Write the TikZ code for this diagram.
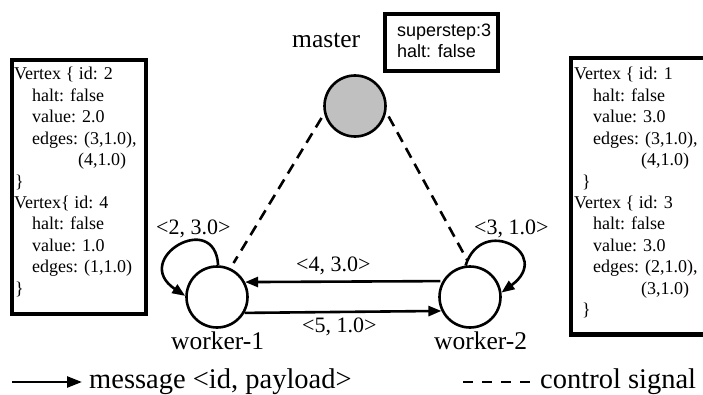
\documentclass[tikz,border=0pt]{standalone}
\usepackage{fontspec}
\setmainfont{Liberation Serif}
\newfontfamily\arialfont{Liberation Sans}
\usetikzlibrary{arrows.meta}
\definecolor{masterfill}{RGB}{192,192,192}
\tikzset{
  boxline/.style={draw=black, line width=4.5pt},
  vtxt/.style={anchor=base west, inner sep=0pt, font=\fontsize{18}{21}\selectfont},
  proc/.style={circle, draw=black, line width=2.6pt, minimum size=61pt, inner sep=0pt},
  lbl/.style={anchor=base west, inner sep=0pt, font=\fontsize{25.5}{28}\selectfont},
  msglbl/.style={anchor=base west, inner sep=0pt, font=\fontsize{22}{25}\selectfont},
  msg/.style={line width=2.6pt, -{Triangle[length=13pt,width=10pt]}},
  ctrl/.style={line width=2.6pt, dash pattern=on 11pt off 7pt},
  legtxt/.style={anchor=base west, inner sep=0pt, font=\fontsize{28.5}{31}\selectfont}
}
\begin{document}
\begin{tikzpicture}[x=1pt,y=1pt]
\useasboundingbox (0,0) rectangle (703,394);

% left vertex box
\draw[boxline] (12,334) rectangle (146,80);
\node[vtxt] (l0) at (14,314) {Vertex \{ id: 2};
\node[vtxt] (l1) at (32,292.6) {halt: false};
\node[vtxt] (l2) at (32,271.2) {value: 2.0};
\node[vtxt] (l3) at (32,249.8) {edges: (3,1.0),};
\node[vtxt] (l4) at (78,228.4) {(4,1.0)};
\node[vtxt] (l5) at (15,207) {\}};
\node[vtxt] (l6) at (14,185.6) {Vertex\{ id: 4};
\node[vtxt] (l7) at (32,164.2) {halt: false};
\node[vtxt] (l8) at (32,142.8) {value: 1.0};
\node[vtxt] (l9) at (32,121.4) {edges: (1,1.0)};
\node[vtxt] (l10) at (15,100) {\}};

% right vertex box
\draw[boxline] (571,336) rectangle (708,59.5);
\node[vtxt] (r0) at (574,314) {Vertex \{ id: 1};
\node[vtxt] (r1) at (593,292.6) {halt: false};
\node[vtxt] (r2) at (593,271.2) {value: 3.0};
\node[vtxt] (r3) at (593,249.8) {edges: (3,1.0),};
\node[vtxt] (r4) at (641,228.4) {(4,1.0)};
\node[vtxt] (r5) at (582,207) {\}};
\node[vtxt] (r6) at (574,185.6) {Vertex \{ id: 3};
\node[vtxt] (r7) at (593,164.2) {halt: false};
\node[vtxt] (r8) at (593,142.8) {value: 3.0};
\node[vtxt] (r9) at (593,121.4) {edges: (2,1.0),};
\node[vtxt] (r10) at (641,100) {(3,1.0)};
\node[vtxt] (r11) at (582,78.6) {\}};

% superstep box
\draw[line width=4pt] (385,380) rectangle (498,323);
\node[anchor=base west, inner sep=0pt, font=\arialfont\fontsize{18}{21}\selectfont] (s1) at (397,357) {superstep:3};
\node[anchor=base west, inner sep=0pt, font=\arialfont\fontsize{18}{21}\selectfont] (s2) at (397,336) {halt: false};

% processes
\node[proc, fill=masterfill] (m) at (355,288) {};
\node[proc] (w1) at (217,97) {};
\node[proc] (w2) at (470,97) {};
\node[lbl] (ml) at (292,346) {master};
\node[lbl] (w1l) at (171,45) {worker-1};
\node[lbl] (w2l) at (434,45) {worker-2};

% control signals
\draw[ctrl, shorten <=5pt, shorten >=6pt] (m.194) -- (w1.65);
\draw[ctrl, shorten <=5pt, shorten >=6pt] (m.349) -- (w2.90);

% messages
\draw[msg, shorten <=2pt] (w2.150) -- (w1.28);
\draw[msg] (w1.330) -- (w2.206);
\draw[msg] (w1.88) .. controls (215,185) and (130,135) .. (w1.178);
\draw[msg] (w2.98) .. controls (482,180) and (554,140) .. (w2.8);
\node[msglbl] (m1) at (156,160) {<2, 3.0>};
\node[msglbl] (m2) at (474,160) {<3, 1.0>};
\node[msglbl] (m3) at (296,123) {<4, 3.0>};
\node[msglbl] (m4) at (302,62) {<5, 1.0>};

% legend
\coordinate (la) at (12,12);
\coordinate (lb) at (82,12);
\draw[line width=2.6pt, -{Triangle[length=15pt,width=11pt]}] (la) -- (lb);
\node[legtxt] (lt1) at (89,6) {message <id, payload>};
\coordinate (lc) at (463,12);
\coordinate (ld) at (532,12);
\draw[line width=2.6pt, dash pattern=on 10pt off 9pt] (lc) -- (ld);
\node[legtxt] (lt2) at (540,6) {control signal};
\end{tikzpicture}
\end{document}
